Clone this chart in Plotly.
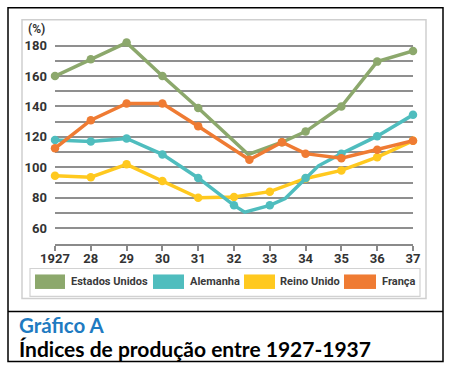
import plotly.graph_objects as go

# ---- data ----
years = list(range(27, 38))
year_labels = ["1927", "28", "29", "30", "31", "32", "33", "34", "35", "36", "37"]

# Estados Unidos
us_x = [27, 28, 29, 30, 31, 33.34, 34, 35, 36, 37]
us_y = [160, 171, 182, 160, 139, 116.5, 123.5, 140, 169.5, 176.5]
us_bend_x = [32.4]
us_bend_y = [108.5]

# Alemanha
de_x = [27, 28, 29, 30, 31, 32, 33, 34, 35, 36, 37]
de_y = [118, 117, 119, 108.5, 93, 75, 75, 93, 109, 120.5, 134.5]
de_bend_x = [32.3, 33.43, 34.36]
de_bend_y = [70.5, 79.5, 101]

# Reino Unido
uk_x = [27, 28, 29, 30, 31, 32, 33, 34, 35, 36, 37]
uk_y = [94.5, 93.5, 102, 91, 80, 80.5, 84, 92.7, 98, 106.7, 117.5]

# França
fr_x = [27, 28, 29, 30, 31, 32.43, 33.34, 34, 35, 36, 37]
fr_y = [112.5, 131, 142, 142, 127, 105, 116.5, 109, 106, 111.5, 117.5]

yticks = list(range(60, 181, 10))
ytick_text = [str(v) if v % 20 == 0 else "" for v in yticks]

series = [
    ("Reino Unido", uk_x, uk_y, [], [], "#FFC91F"),
    ("Alemanha", de_x, de_y, de_bend_x, de_bend_y, "#4FBDBE"),
    ("Estados Unidos", us_x, us_y, us_bend_x, us_bend_y, "#8CA86C"),
    ("França", fr_x, fr_y, [], [], "#EF7B33"),
]

W, H = 450, 369
Y0, Y1 = 49.6, 187.0
PXU = 1.5225                     # pixels per y unit
B = 244.5                        # pixel row of the x axis
T = B - (Y1 - Y0) * PXU
L, R = 55, 413


def px(x):
    return (x - L) / (R - L)


def py(y):
    return (B - y) / (B - T)


fig = go.Figure()
for name, x, y, bx, by, col in series:
    pts = sorted(zip(list(x) + list(bx), list(y) + list(by)))
    fig.add_trace(go.Scatter(
        x=[p[0] for p in pts], y=[p[1] for p in pts], mode="lines",
        line=dict(color=col, width=3.5), showlegend=False, cliponaxis=False,
        hoverinfo="skip"))
    fig.add_trace(go.Scatter(
        x=x, y=y, mode="markers", name=name,
        marker=dict(color=col, size=8.5), showlegend=False, cliponaxis=False))

tickfont = dict(family="Roboto", size=13, color="#333333", weight="bold")

fig.update_layout(
    width=W, height=H,
    margin=dict(l=L, r=W - R, t=T, b=H - B, pad=0),
    paper_bgcolor="white", plot_bgcolor="white",
    xaxis=dict(range=[27, 37], tickvals=years, ticktext=year_labels,
               showgrid=False, zeroline=False, showline=True,
               linecolor="#8a8a8a", linewidth=1.5, ticks="outside",
               ticklen=5, tickwidth=1.5, tickcolor="#8a8a8a",
               tickfont=tickfont, ticklabelstandoff=-3, fixedrange=True),
    yaxis=dict(range=[Y0, Y1], tickvals=yticks, ticktext=ytick_text,
               showgrid=True, gridcolor="#8f8f8f", gridwidth=1.5,
               zeroline=False, showline=False, ticks="",
               tickfont=tickfont, ticklabelstandoff=7, fixedrange=True),
    showlegend=False,
)

shapes = []
annotations = []

# outer black frame and separator
shapes.append(dict(type="rect", xref="paper", yref="paper",
                   x0=px(8), x1=px(443), y0=py(8), y1=py(362),
                   line=dict(color="black", width=1.5), layer="below"))
shapes.append(dict(type="line", xref="paper", yref="paper",
                   x0=px(8), x1=px(443), y0=py(312), y1=py(312),
                   line=dict(color="black", width=1.5)))
# light grey chart panel
shapes.append(dict(type="rect", xref="paper", yref="paper",
                   x0=px(22), x1=px(426), y0=py(20), y1=py(299),
                   line=dict(color="#cfcfcf", width=1.5), layer="below"))
# legend box
shapes.append(dict(type="rect", xref="paper", yref="paper",
                   x0=px(30), x1=px(420), y0=py(269), y1=py(297),
                   line=dict(color="#d2d2d2", width=1.2), layer="below"))

legend_items = [
    ("Estados Unidos", "#8CA86C", 35, 65, 69),
    ("Alemanha", "#4FBDBE", 153, 184, 188),
    ("Reino Unido", "#FFC91F", 244, 275, 278),
    ("França", "#EF7B33", 344, 376, 380),
]
for name, col, s0, s1, tx in legend_items:
    shapes.append(dict(type="rect", xref="paper", yref="paper",
                       x0=px(s0), x1=px(s1), y0=py(275), y1=py(289.5),
                       line=dict(width=0), fillcolor=col))
    annotations.append(dict(xref="paper", yref="paper", x=px(tx), y=py(282.5),
                            xanchor="left", yanchor="middle", showarrow=False,
                            text=name,
                            font=dict(family="Roboto", size=11,
                                      color="#3a3a3a", weight="bold")))

annotations.append(dict(xref="paper", yref="paper", x=px(26), y=py(29),
                        xanchor="left", yanchor="middle", showarrow=False,
                        text="(%)",
                        font=dict(family="Roboto", size=12, color="#333333",
                                  weight="bold")))

annotations.append(dict(xref="paper", yref="paper", x=px(17), y=py(326),
                        xanchor="left", yanchor="middle", showarrow=False,
                        text="Gráfico A",
                        font=dict(family="Lato", size=20.5, color="#1F7BC1",
                                  weight="bold")))
annotations.append(dict(xref="paper", yref="paper", x=px(17), y=py(349),
                        xanchor="left", yanchor="middle", showarrow=False,
                        text="Índices de produção entre 1927-1937",
                        font=dict(family="Lato", size=21, color="black",
                                  weight="bold")))

fig.update_layout(shapes=shapes, annotations=annotations)
fig.write_html("out.html", config={"displayModeBar": False},
               post_script="document.body.style.margin='0';")
